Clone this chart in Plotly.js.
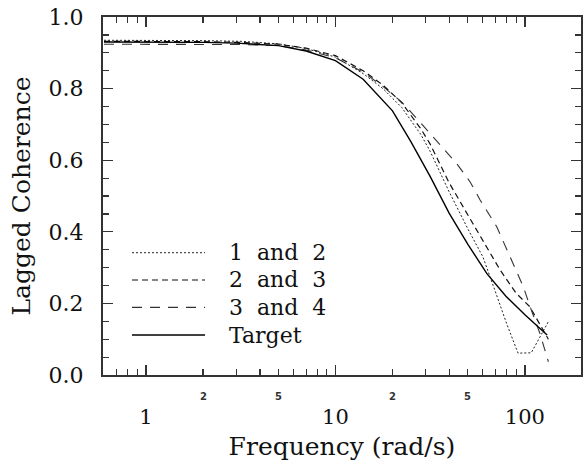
<!DOCTYPE html>
<html>
<head>
<meta charset="utf-8">
<script src="https://cdn.plot.ly/plotly-3.0.1.min.js"></script>
<style>
  html, body { margin: 0; padding: 0; background: #fff; }
  #chart { width: 583px; height: 461px; }
</style>
</head>
<body>
<div id="chart"></div>
<script>
// Lagged coherence between neighbouring sensor pairs, plus the target curve
const seriesNames = ['1\u00a0\u00a0and\u00a0\u00a02', '2\u00a0\u00a0and\u00a0\u00a03', '3\u00a0\u00a0and\u00a0\u00a04', 'Target'];

const freq12 = [0.6, 1, 2, 3.2, 5, 7, 10, 14, 17.8, 22.4, 28.2, 31.6, 39.8, 50, 60, 68, 80, 92, 108, 133];
const coh12  = [0.935, 0.935, 0.934, 0.932, 0.925, 0.912, 0.888, 0.842, 0.800, 0.747, 0.672, 0.625, 0.512, 0.408, 0.330, 0.250, 0.144, 0.061, 0.062, 0.149];

const freq23 = [0.6, 1, 2, 3.2, 5, 7, 10, 14, 17.8, 22.4, 26.3, 28.2, 31.6, 39.8, 53, 74, 90, 106, 133];
const coh23  = [0.932, 0.932, 0.931, 0.929, 0.924, 0.913, 0.892, 0.850, 0.810, 0.760, 0.712, 0.688, 0.645, 0.537, 0.424, 0.293, 0.228, 0.191, 0.100];

const freq34 = [0.6, 1, 2, 3.2, 5, 7, 10, 14, 17.8, 22.4, 26.3, 31.6, 37, 43.6, 51.3, 58, 71, 83.4, 98, 108, 120, 133];
const coh34  = [0.924, 0.924, 0.924, 0.923, 0.920, 0.908, 0.886, 0.846, 0.806, 0.762, 0.722, 0.675, 0.635, 0.591, 0.540, 0.489, 0.414, 0.330, 0.247, 0.182, 0.116, 0.037];

const freqTarget = [0.6, 1, 2, 3, 5, 7, 10, 14, 17.8, 20, 25, 31.6, 39.8, 50, 63, 79.4, 100, 115, 131];
const cohTarget  = [0.930, 0.930, 0.929, 0.927, 0.920, 0.905, 0.878, 0.826, 0.768, 0.738, 0.652, 0.555, 0.452, 0.365, 0.283, 0.220, 0.168, 0.140, 0.112];

// axis labelling: decades get full labels, 2 and 5 get small ones
const decadeTicks = [1, 10, 100];
const decadeLabels = ['1', '10', '100'];
const minorLabelVals = [2, 5, 20, 50, 200];
const minorLabels = ['2', '5', '2', '5', '2'];
const minorTickVals = [0.6, 0.7, 0.8, 0.9, 2, 3, 4, 5, 6, 7, 8, 9, 20, 30, 40, 50, 60, 70, 80, 90, 200];

const SERIF = 'DejaVu Serif';

const lineStyles = [
  { color: '#222', width: 1, dash: '2px,2px' },
  { color: '#111', width: 1.2, dash: '6px,4px' },
  { color: '#333', width: 1.1, dash: '10px,8px' },
  { color: '#000', width: 1.4, dash: 'solid' }
];

const xs = [freq12, freq23, freq34, freqTarget];
const ys = [coh12, coh23, coh34, cohTarget];

const traces = xs.map((x, i) => ({
  x: x, y: ys[i], type: 'scatter', mode: 'lines',
  name: seriesNames[i], line: Object.assign({ shape: 'linear' }, lineStyles[i]),
  showlegend: false, hoverinfo: 'skip'
}));

// key drawn inside the lower left of the frame
const legendRowsY = [0.3416, 0.2654, 0.189, 0.1117];
const shapes = lineStyles.map((s, i) => ({
  type: 'line', xref: 'paper', yref: 'paper',
  x0: 0.0607, x1: 0.2134, y0: legendRowsY[i], y1: legendRowsY[i],
  line: { color: s.color, width: s.width, dash: s.dash }
}));

const annotations = seriesNames.map((n, i) => ({
  xref: 'paper', yref: 'paper', x: 0.2594, y: legendRowsY[i],
  xanchor: 'left', yanchor: 'middle', showarrow: false, text: n,
  font: { family: SERIF, size: 22, color: '#111' }
})).concat(minorLabelVals.map((v, i) => ({
  xref: 'x', yref: 'paper', x: Math.log10(v), y: -0.06,
  xanchor: 'center', yanchor: 'middle', showarrow: false, text: '<b>' + minorLabels[i] + '</b>',
  font: { family: 'DejaVu Sans', size: 10, color: '#333' }
})));

const layout = {
  width: 583, height: 461,
  margin: { l: 103, r: 2, t: 17, b: 86 },
  paper_bgcolor: '#fff', plot_bgcolor: '#fff',
  showlegend: false,
  font: { family: SERIF, size: 20, color: '#111' },
  xaxis: {
    type: 'log', range: [-0.227, 2.296],
    tickmode: 'array', tickvals: decadeTicks, ticktext: decadeLabels,
    ticks: 'inside', ticklen: 10, tickwidth: 1.3, tickcolor: '#333',
    showline: true, linecolor: '#333', linewidth: 2, mirror: 'allticks',
    showgrid: false, zeroline: false,
    ticklabelstandoff: 22,
    tickfont: { family: SERIF, size: 21, color: '#111' },
    minor: { tickmode: 'array', tickvals: minorTickVals, ticks: 'inside', ticklen: 6, tickwidth: 1.2, tickcolor: '#333', showgrid: false },
    title: { text: 'Frequency (rad/s)', font: { family: SERIF, size: 25, color: '#111' }, standoff: 11 }
  },
  yaxis: {
    range: [0, 1], dtick: 0.2, tick0: 0, tickformat: '.1f',
    ticks: 'inside', ticklen: 10, tickwidth: 1.3, tickcolor: '#333',
    showline: true, linecolor: '#333', linewidth: 2, mirror: 'allticks',
    showgrid: false, zeroline: false,
    ticklabelstandoff: 13,
    tickfont: { family: SERIF, size: 22, color: '#111' },
    minor: { dtick: 0.05, ticks: 'inside', ticklen: 6, tickwidth: 1.2, tickcolor: '#333', showgrid: false },
    title: { text: 'Lagged Coherence', font: { family: SERIF, size: 25, color: '#111' }, standoff: 11 }
  },
  shapes: shapes,
  annotations: annotations
};

Plotly.newPlot('chart', traces, layout, { displayModeBar: false, staticPlot: true });
</script>
</body>
</html>
